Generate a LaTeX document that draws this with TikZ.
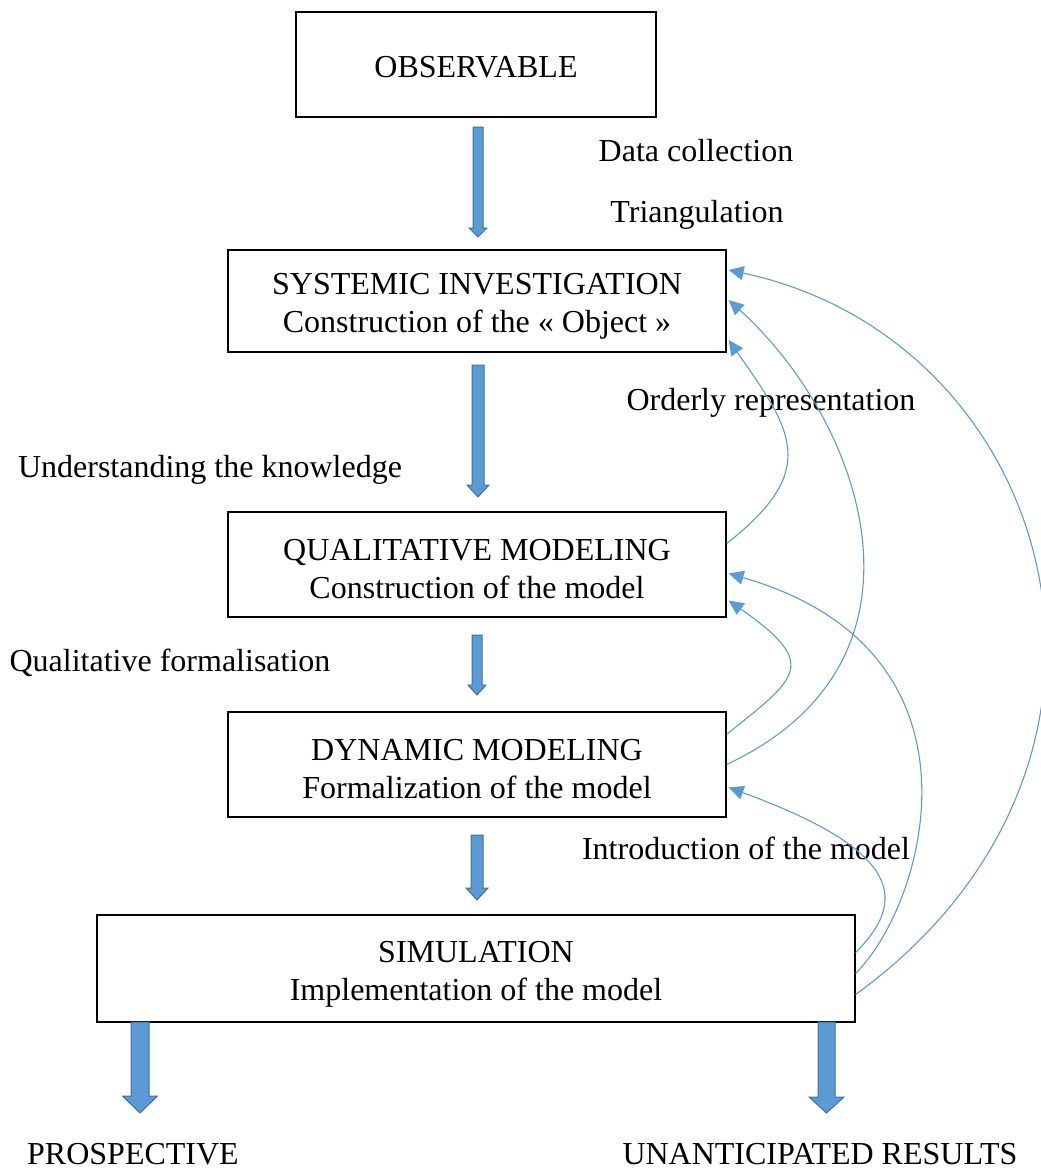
\documentclass[tikz,border=0pt]{standalone}
\usepackage{fontspec}
\setmainfont{Liberation Serif}
\usetikzlibrary{arrows.meta,calc}
\definecolor{arrowblue}{HTML}{5B9BD5}
\definecolor{arrowedge}{HTML}{41719C}

\begin{document}
\begin{tikzpicture}[x=1pt,y=-1pt,
  every node/.style={font=\fontsize{32}{38}\selectfont},
  box/.style={draw=black,line width=1.2pt,fill=white,inner sep=0pt},
  boxtext/.style={inner sep=0pt,align=center,yshift=-5pt},
  lbl/.style={inner sep=0pt},
  fat/.style={fill=arrowblue,draw=arrowedge,line width=1pt},
  feedback/.style={draw=arrowblue,line width=1.1pt,-{Triangle[length=15pt,width=14pt]}}]
\useasboundingbox (0,0) rectangle (1041,1170);
% boxes
\node[box,minimum width=360,minimum height=105,label={[boxtext,yshift=2pt]center:OBSERVABLE}] (obs) at (476,64.5) {};
\node[box,minimum width=498,minimum height=102,label={[boxtext]center:SYSTEMIC INVESTIGATION\\Construction of the « Object »}] (sys) at (477,301) {};
\node[box,minimum width=498,minimum height=105,label={[boxtext]center:QUALITATIVE MODELING\\Construction of the model}] (qual) at (477,564.5) {};
\node[box,minimum width=498,minimum height=105,label={[boxtext]center:DYNAMIC MODELING\\Formalization of the model}] (dyn) at (477,764.5) {};
\node[box,minimum width=758,minimum height=107,label={[boxtext,yshift=-1pt]center:SIMULATION\\Implementation of the model}] (sim) at (476,968.5) {};
% block arrows: x/top/head start/tip/half shaft/half head
\foreach \x/\t/\h/\b/\s/\w in {478/127/228/237/5/9, 478/365/485/497/6/11, 477/635/685/695/5/9, 477/835/888/900/6/11, 140/1022/1096/1113/9/17.5, 826.5/1022/1097/1113/8.5/17.5}
  \filldraw[fat] (\x-\s,\t) -- (\x+\s,\t) -- (\x+\s,\h) -- (\x+\w,\h) -- (\x,\b) -- (\x-\w,\h) -- (\x-\s,\h) -- cycle;
% labels
\node[lbl] (datacol) at (696,151) {Data collection};
\node[lbl] (triang) at (697,215) {Triangulation};
\node[lbl] (orderly) at (771,403) {Orderly representation};
\node[lbl] (underst) at (210,470) {Understanding the knowledge};
\node[lbl] (qualform) at (170,663) {Qualitative formalisation};
\node[lbl] (intro) at (746,848) {Introduction of the model};
\node[lbl] (prosp) at (133,1154) {PROSPECTIVE};
\node[lbl] (unant) at (820,1154) {UNANTICIPATED RESULTS};
% feedback loops
\draw[feedback] ($(qual.east)+(0,-21)$) to[out=38,in=-55,out distance=120pt,in distance=110pt] ($(sys.east)+(2,39)$);
\draw[feedback] ($(dyn.east)+(0,-30)$) to[out=39,in=-35,out distance=91pt,in distance=112pt] ($(qual.east)+(2,36)$);
\draw[feedback] ($(dyn.east)+(0,0)$) to[out=25,in=-42,out distance=245pt,in distance=180pt] ($(sys.east)+(2,-1)$);
\draw[feedback] ($(sim.east)+(0,-16)$) to[out=45,in=-20,out distance=70pt,in distance=190pt] ($(dyn.east)+(2,23)$);
\draw[feedback] ($(sim.east)+(0,5)$) to[out=45,in=-16,out distance=100pt,in distance=280pt] ($(qual.east)+(2,9)$);
\draw[feedback] ($(sim.east)+(0,26)$) to[out=36,in=-12,out distance=399pt,in distance=335pt] ($(sys.east)+(2,-31)$);
\end{tikzpicture}
\end{document}
